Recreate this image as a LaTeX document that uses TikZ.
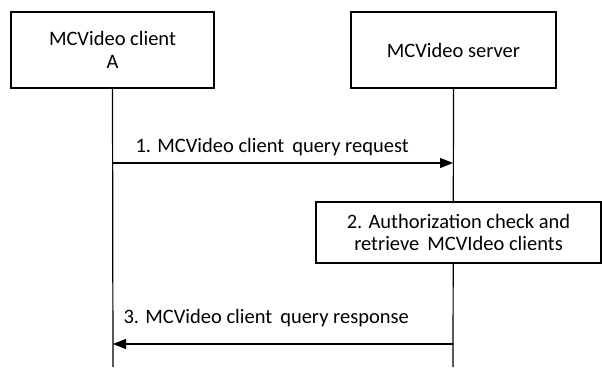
\documentclass[tikz,border=0pt]{standalone}
\usepackage{fontspec}
\setmainfont{Carlito}
\usetikzlibrary{arrows.meta,positioning}

\begin{document}
\begin{tikzpicture}[x=1pt, y=-1pt, line width=1.2pt,
        font=\fontsize{20.5}{22.5}\selectfont,
        entity/.style={draw, rectangle, align=center, fill=white, inner sep=0pt},
        action/.style={draw, rectangle, align=center, fill=white, inner sep=0pt, minimum width=285pt, minimum height=61pt},
        msglabel/.style={anchor=base west, inner sep=0pt},
        msg/.style={-{Triangle[length=13pt,width=10pt]}}]
        \useasboundingbox (0,0) rectangle (602,367);

        \node[entity, minimum width=203pt, minimum height=76pt] (clientA) at (112.5,50) {MCVideo client\\A};
        \node[entity, minimum width=205pt, minimum height=76pt] (server) at (453.5,50) {MCVideo server};

        % lifelines
        \coordinate (clientEnd) at (113,367);
        \coordinate (serverEnd) at (453,367);
        \draw (clientA.south) -- (clientEnd);
        \draw (server.south) -- (serverEnd);

        \node[action] (authz) at (458.5,232.5) {2. Authorization check and\\retrieve \,MCVIdeo clients};

        \coordinate (reqA) at (113,163);
        \coordinate (reqS) at (453,163);
        \coordinate (respS) at (453,344);
        \coordinate (respA) at (113,344);

        \draw[msg] (reqA) -- (reqS);
        \node[msglabel] (reqLabel) at (135,152) {1. MCVideo client \,query request};
        \draw[msg] (respS) -- (respA);
        \node[msglabel] (respLabel) at (123,323) {3. MCVideo client \,query response};
    \end{tikzpicture}
\end{document}
